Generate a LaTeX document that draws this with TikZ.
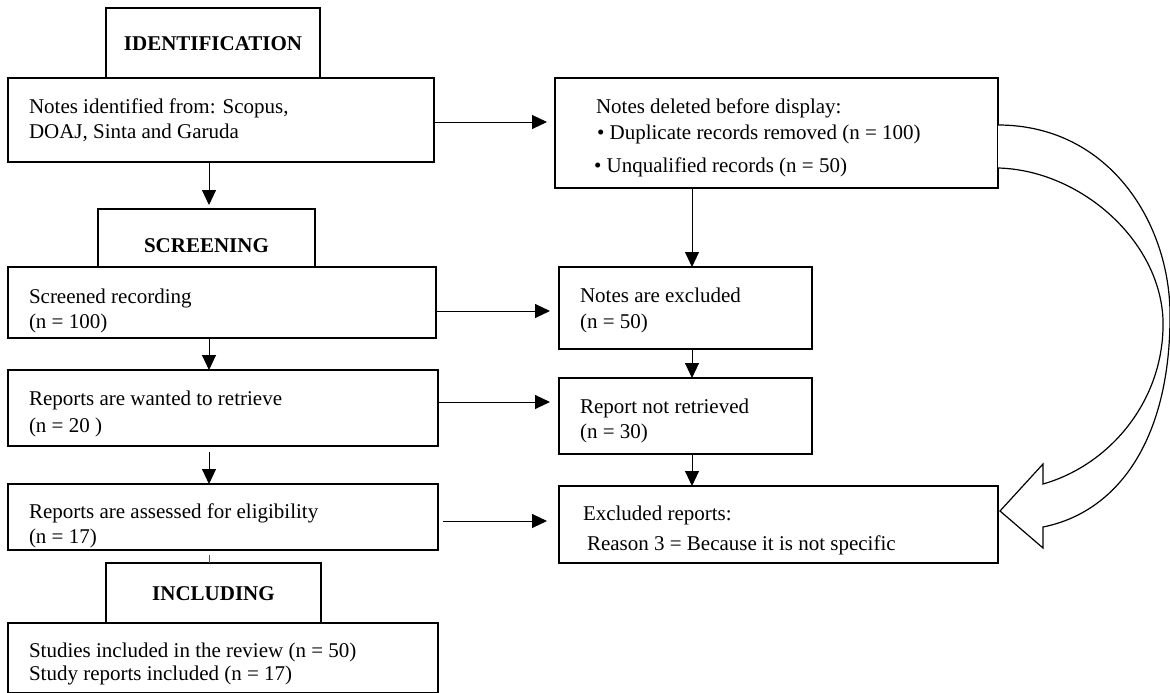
\documentclass[tikz,border=0pt]{standalone}
\usepackage{fontspec}
\setmainfont{Liberation Serif}
\usetikzlibrary{arrows.meta,calc}
\tikzset{
  box/.style={draw, line width=1.4pt, inner sep=0pt, outer sep=0pt},
  txt/.style={anchor=base west, inner sep=0pt, outer sep=0pt, font=\fontsize{21}{25}\selectfont},
  head/.style={anchor=base, inner sep=0pt, outer sep=0pt, font=\fontsize{21}{25}\selectfont\bfseries},
  arr/.style={line width=0.9pt, -{Triangle[length=15pt,width=14pt]}},
  thin/.style={line width=0.7pt, draw=gray!70!black},
  blockarrow/.style={line width=1.2pt, fill=white, line join=miter}
}
\newcommand\mybox[5]{\node[box, minimum width={#4-#2}, minimum height={#5-#3}] (#1) at ({(#2+#4)/2},{(#3+#5)/2}) {};}
\begin{document}
\begin{tikzpicture}[x=1pt,y=-1pt]
\useasboundingbox (0,0) rectangle (1170,693);
\fill[white] (0,0) rectangle (1170,693);
% left column boxes
\mybox{ident}{106}{8}{320}{78}
\mybox{ni}{8}{78}{434}{162}
\mybox{screen}{98}{209}{315}{267}
\mybox{sr}{8}{267}{436}{338}
\mybox{rw}{8}{370}{438}{446}
\mybox{ra}{8}{484}{438}{550}
\mybox{incl}{106}{563}{321}{623}
\mybox{si}{8}{623}{438}{692.6}
% right column boxes
\mybox{nd}{555}{78}{998}{188}
\mybox{ne}{559}{267}{812}{349}
\mybox{nr}{559}{378}{812}{454}
\mybox{er}{559}{486}{998}{563}
% texts
\node[head] (identt) at (213,51) {IDENTIFICATION};
\node[txt] (ni1) at (29,113) {Notes identified from: Scopus,};
\node[txt] (ni2) at (29,138) {DOAJ, Sinta and Garuda};
\node[head] (screent) at (206.5,252) {SCREENING};
\node[txt] (sr1) at (29,303) {Screened recording};
\node[txt] (sr2) at (29,328) {(n = 100)};
\node[txt] (rw1) at (29,405) {Reports are wanted to retrieve};
\node[txt] (rw2) at (29,432) {(n = 20 )};
\node[txt] (ra1) at (29,518) {Reports are assessed for eligibility};
\node[txt] (ra2) at (29,543) {(n = 17)};
\node[head] (inclt) at (213.5,600) {INCLUDING};
\node[txt] (si1) at (29,657) {Studies included in the review (n = 50)};
\node[txt] (si2) at (29,680) {Study reports included (n = 17)};
\node[txt] (nd1) at (596,113) {Notes deleted before display:};
\node[txt] (nd2) at (597,139) {• Duplicate records removed (n = 100)};
\node[txt] (nd3) at (594,172) {• Unqualified records (n = 50)};
\node[txt] (ne1) at (580,302) {Notes are excluded};
\node[txt] (ne2) at (580,328) {(n = 50)};
\node[txt] (nr1) at (580,413) {Report not retrieved};
\node[txt] (nr2) at (580,438) {(n = 30)};
\node[txt] (er1) at (583,520) {Excluded reports:};
\node[txt] (er2) at (587,550) {Reason 3 = Because it is not specific};
% vertical connectors, left
\draw[arr] (ni.south -| 209,0) -- ([yshift=4pt]screen.north -| 209,0);
\draw[arr] (sr.south -| 209,0) -- (rw.north -| 209,0);
\draw[arr] ([yshift=-6pt]rw.south -| 209,0) -- (ra.north -| 209,0);
\draw[thin] ([yshift=-5pt]ra.south -| 209,0) -- (incl.north -| 209,0);
% vertical connectors, right
\draw[arr] (nd.south -| 692,0) -- (ne.north -| 692,0);
\draw[arr] (ne.south -| 692,0) -- (nr.north -| 692,0);
\draw[arr] (nr.south -| 692,0) -- (er.north -| 692,0);
% horizontal connectors
\draw[arr] (ni.east |- 0,122) -- ([xshift=-8pt]nd.west |- 0,122);
\draw[arr] (sr.east |- 0,311) -- ([xshift=-9pt]ne.west |- 0,311);
\draw[arr] (rw.east |- 0,402) -- ([xshift=-9pt]nr.west |- 0,402);
\draw[arr] ([xshift=5pt]ra.east |- 0,521) -- ([xshift=-12pt]er.west |- 0,521);
% curved block arrow from nd to er
\coordinate (ca) at (nd.east |- 0,125);
\coordinate (cb) at (nd.east |- 0,168);
\coordinate (ct) at ([xshift=2pt]er.east |- 0,511);
\draw[blockarrow] (ca) .. controls (1110,125) and (1172,225) .. (1170,320)
  .. controls (1169,440) and (1118,512) .. (1043,527)
  -- (1043,548) -- (ct) -- (1043,464) -- (1043,484)
  .. controls (1110,465) and (1165,400) .. (1163,320)
  .. controls (1160,240) and (1080,170) .. (cb);
\end{tikzpicture}
\end{document}
